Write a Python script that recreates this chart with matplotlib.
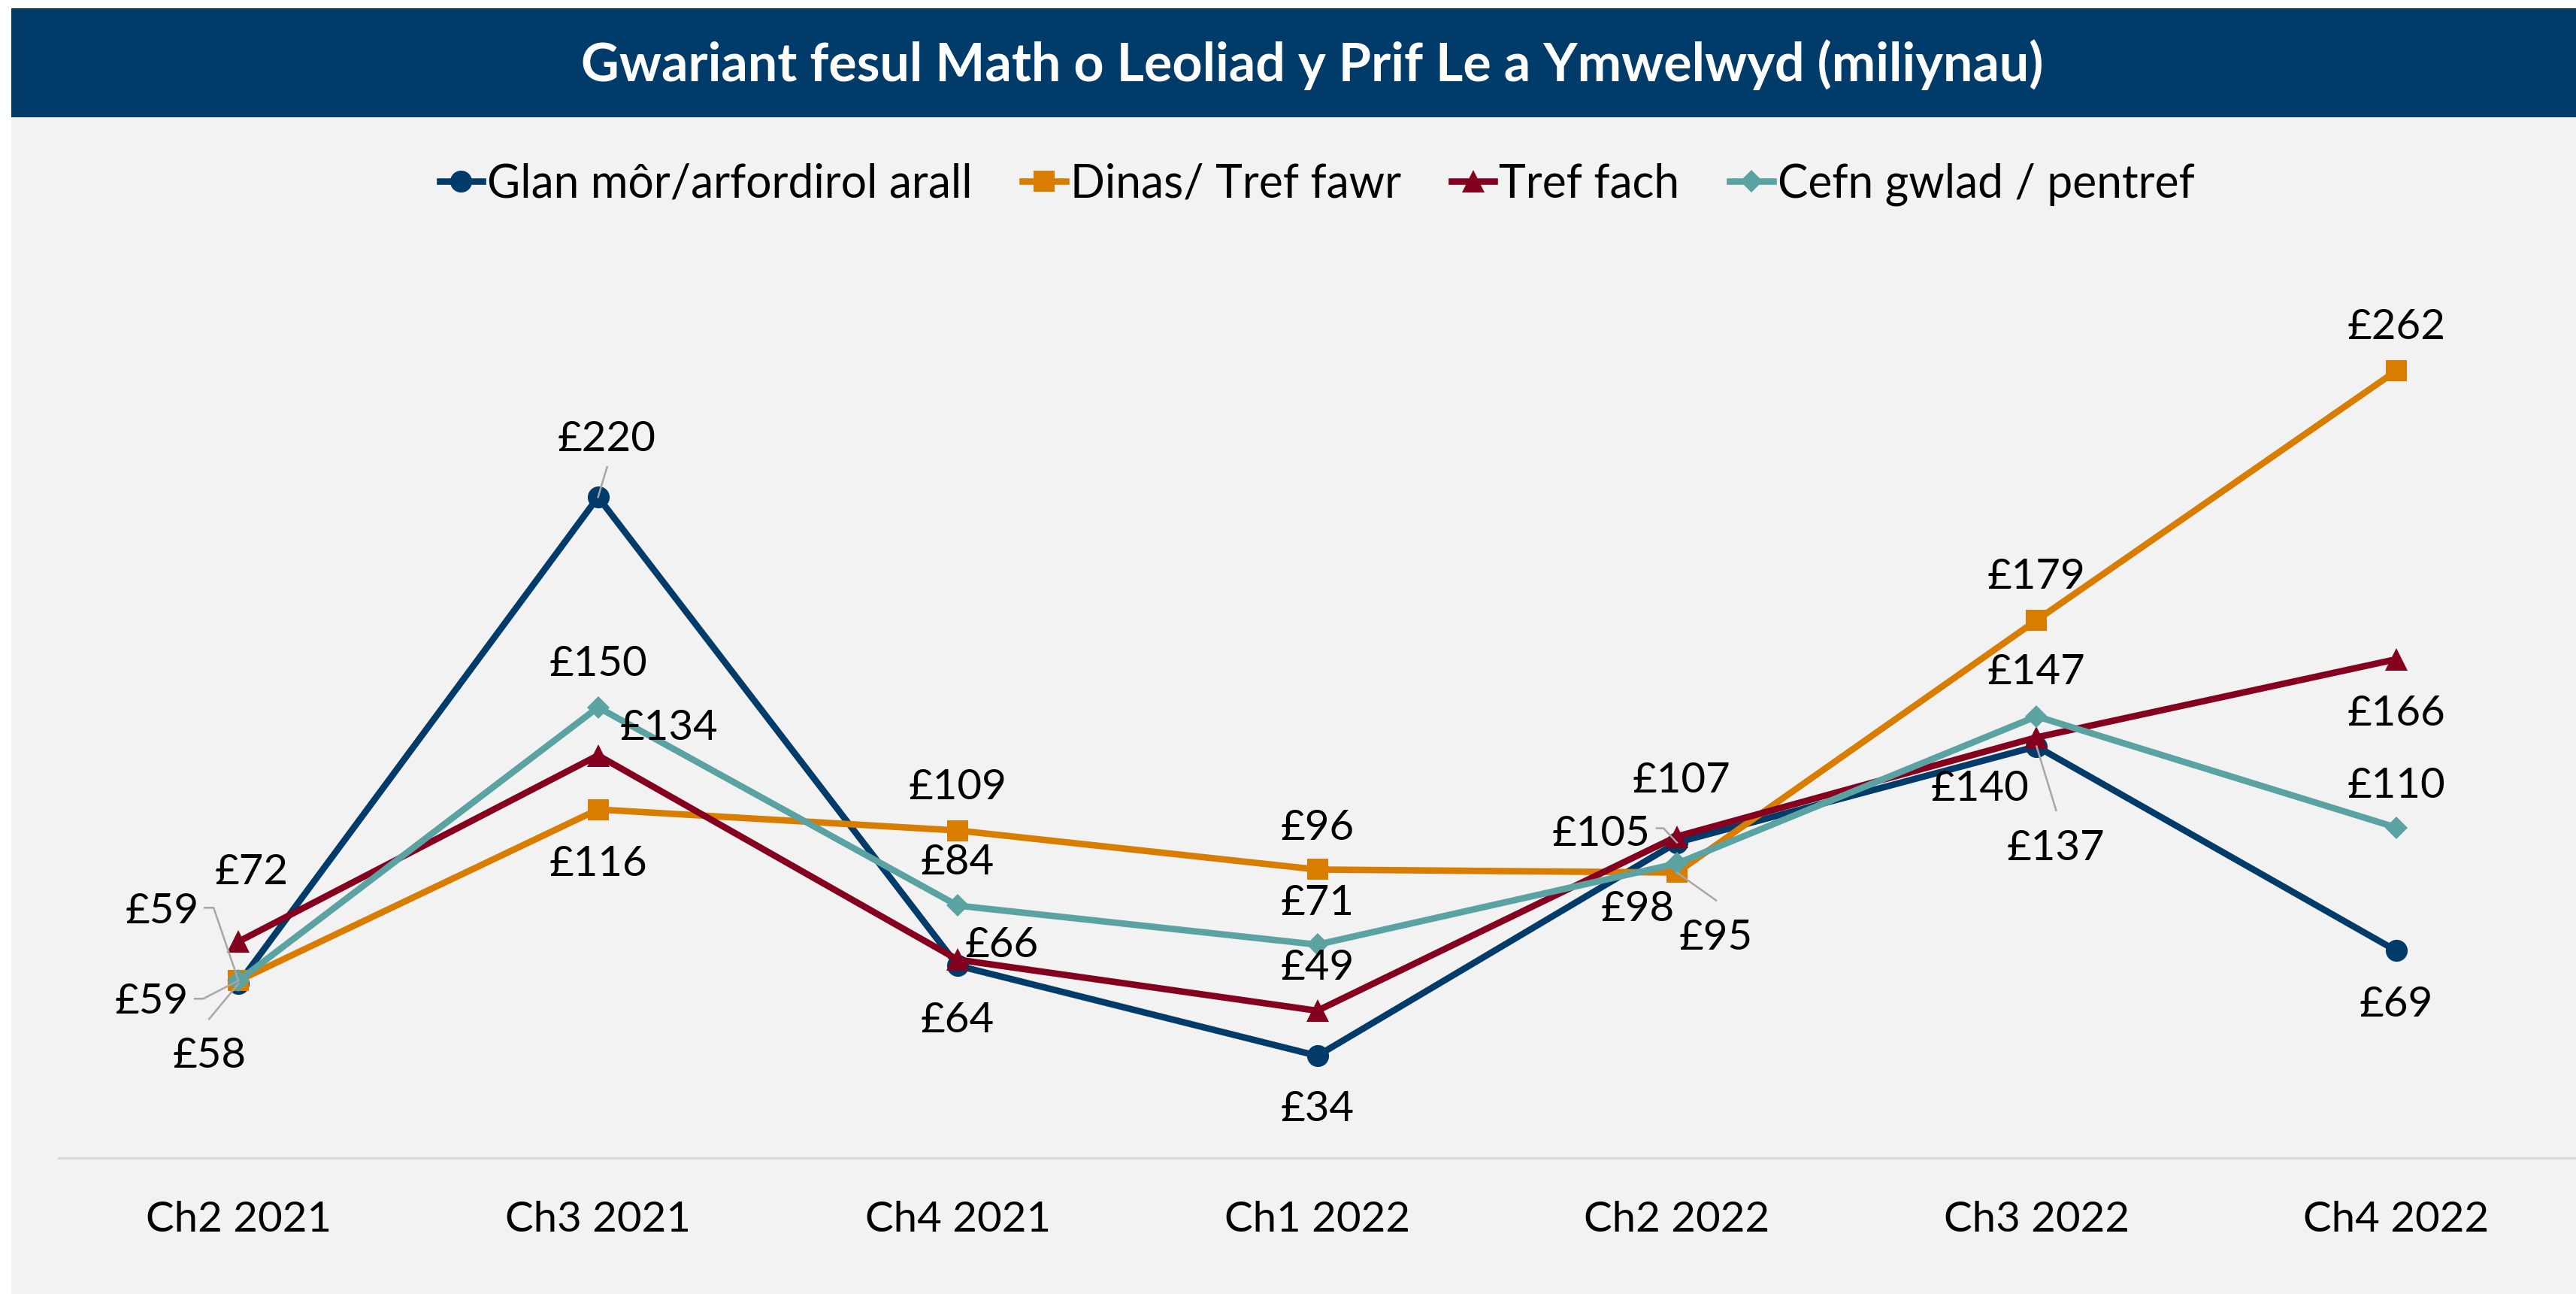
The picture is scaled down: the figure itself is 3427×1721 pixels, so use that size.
import numpy as np
import matplotlib
matplotlib.use("Agg")
import matplotlib.pyplot as plt
from matplotlib.patches import Rectangle
from matplotlib.lines import Line2D
from matplotlib.transforms import IdentityTransform

# ---------------- data ----------------
categories = ["Ch2 2021", "Ch3 2021", "Ch4 2021", "Ch1 2022", "Ch2 2022", "Ch3 2022", "Ch4 2022"]
series_names = ["Glan môr/arfordirol arall", "Dinas/ Tref fawr", "Tref fach", "Cefn gwlad / pentref"]
glan = [58, 220, 64, 34, 105, 137, 69]
dinas = [59, 116, 109, 96, 95, 179, 262]
tref = [72, 134, 66, 49, 107, 140, 166]
cefn = [59, 150, 84, 71, 98, 147, 110]
title = "Gwariant fesul Math o Leoliad y Prif Le a Ymwelwyd (miliynau)"

# ---------------- style ----------------
W, H, DPI = 3427, 1721, 200
FONT = "Lato"
colors = ["#003B6A", "#D97D00", "#85001F", "#5AA3A2"]
markers = ["o", "s", "^", "D"]
msizes = [10.5, 10, 10.5, 7.5]
LABEL_FS = 20.3
DIGIT_HALF = 20  # px, half digit height (centre -> baseline)

# label offsets (px, y up) of label centre relative to the point
label_offsets = [
    [(-39, -92), (11, 81), (0, -69), (0, -67), (-101, 16), (26, -131), (0, -68)],
    [(-116, -24), (0, -68), (0, 62), (0, 59), (52, -83), (0, 62), (0, 62)],
    [(17, 96), (94, 41), (59, 23), (0, 61), (6, 79), (-75, -64), (0, -68)],
    [(-102, 96), (0, 62), (0, 61), (0, 59), (-52, -57), (0, 63), (0, 60)],
]
# leader lines: (series, index, list of px offsets from the point)
leaders = [
    (0, 0, [(-39, -47), (0, 0)]),
    (0, 1, [(12, 40), (0, 0)]),
    (0, 4, [(-27, 19), (-18, 19), (0, 0)]),
    (0, 5, [(26, -85), (0, 0)]),
    (1, 0, [(-58, -24), (-47, -24), (0, 0)]),
    (1, 4, [(52, -37), (0, 0)]),
    (3, 0, [(-45, 97), (-33, 97), (0, 0)]),
]

plt.rcParams["font.family"] = [FONT, "DejaVu Sans"]

fig = plt.figure(figsize=(W / DPI, H / DPI), dpi=DPI)
fig.patch.set_facecolor("white")
fig.add_artist(Rectangle((15 / W, 0), 1 - 15 / W, 1 - 11 / H, transform=fig.transFigure,
                         facecolor="#F2F2F2", edgecolor="none", zorder=0))
fig.add_artist(Rectangle((15 / W, 1 - 156 / H), 1 - 15 / W, 145 / H, transform=fig.transFigure,
                         facecolor="#003B6A", edgecolor="none", zorder=0))
fig.text(1746 / W, 1 - 86 / H, title, color="white", fontsize=25.2, fontweight="bold",
         ha="center", va="center")

ax = fig.add_axes([78 / W, 1 - 1540 / H, 1 - 78 / W, (1540 - 341.5) / H])
ax.set_facecolor("none")
ax.set_xlim(-0.5, 6.5)
ax.set_ylim(0, 300)
for s in ["top", "right", "left"]:
    ax.spines[s].set_visible(False)
ax.spines["bottom"].set_color("#D9D9D9")
ax.spines["bottom"].set_linewidth(1.1)
ax.set_yticks([])
x = np.arange(len(categories))
ax.set_xticks(x)
ax.set_xticklabels(categories, fontsize=LABEL_FS)
ax.tick_params(axis="x", length=0, pad=20.5)

all_series = [glan, dinas, tref, cefn]
handles = []
for k, vals in enumerate(all_series):
    (ln,) = ax.plot(x, vals, color=colors[k], lw=3.1, marker=markers[k], ms=msizes[k],
                    markeredgewidth=0, label=series_names[k], zorder=3 + k * 0.1,
                    solid_joinstyle="miter")
    handles.append(ln)
    for i, v in enumerate(vals):
        dx, dy = label_offsets[k][i]
        ax.annotate(f"£{v}", (i, v), xytext=(dx, dy - DIGIT_HALF), textcoords="offset pixels",
                    ha="center", va="baseline", fontsize=LABEL_FS, color="black", zorder=6)

for k, i, offs in leaders:
    px, py = ax.transData.transform((i, all_series[k][i]))
    xs = [px + o[0] for o in offs]
    ys = [py + o[1] for o in offs]
    fig.add_artist(Line2D(xs, ys, transform=IdentityTransform(), color="#A6A6A6", lw=0.9, zorder=5))

fig.legend(handles=handles, labels=series_names, loc="center",
           bbox_to_anchor=(1752 / W, 1 - 245 / H), ncol=4, frameon=False,
           fontsize=21.8, handlelength=0.95, handletextpad=0.1, columnspacing=1.1)

fig.savefig("out.png", dpi=DPI, facecolor=fig.get_facecolor())
